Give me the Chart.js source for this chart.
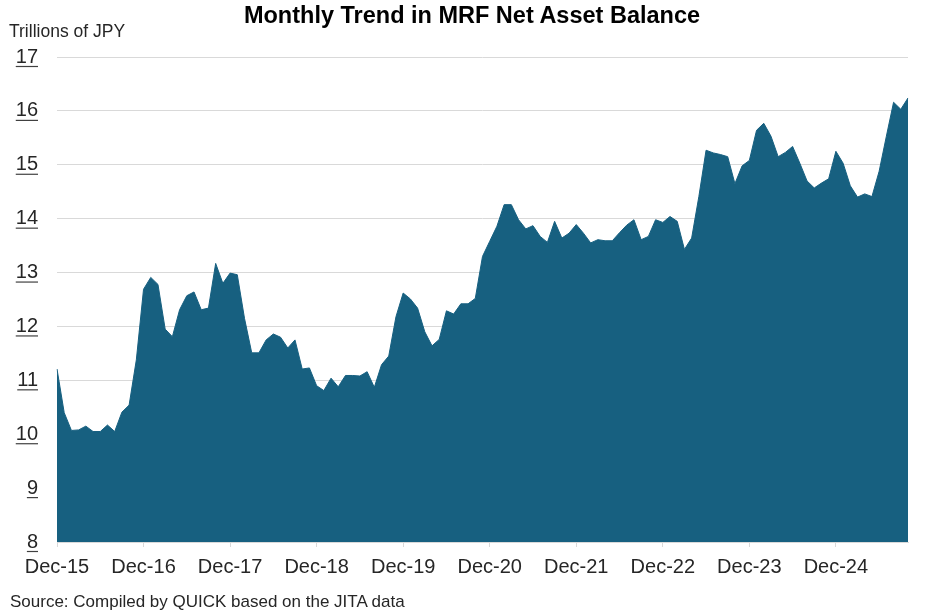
<!DOCTYPE html>
<html lang="en">
<head>
    <meta charset="UTF-8">
    <title>Monthly Trend in MRF Net Asset Balance</title>
    <script src="https://cdn.jsdelivr.net/npm/chart.js"></script>
    <style>
        body {
            margin: 0;
            font-family: "Liberation Sans", Arial, sans-serif;
            background: #ffffff;
        }
        .wrap {
            position: relative;
            width: 937px;
            height: 613px;
        }
        .title {
            position: absolute;
            left: 0;
            width: 944px;
            top: 2px;
            text-align: center;
            font-size: 23.5px;
            font-weight: bold;
            color: #000;
        }
        .unit {
            position: absolute;
            left: 9px;
            top: 21px;
            font-size: 17.5px;
            color: #262626;
        }
        .source {
            position: absolute;
            left: 10px;
            top: 592px;
            font-size: 17px;
            color: #262626;
        }
        canvas {
            position: absolute;
            left: 0;
            top: 0;
        }
    </style>
</head>
<body>
    <div class="wrap">
        <canvas id="areaChart" width="937" height="613"></canvas>
        <div class="title">Monthly Trend in MRF Net Asset Balance</div>
        <div class="unit">Trillions of JPY</div>
        <div class="source">Source: Compiled by QUICK based on the JITA data</div>
    </div>

    <script>
        // monthly series, Dec-15 .. Oct-25 (trillions of JPY)
        const monthNames = ["Jan", "Feb", "Mar", "Apr", "May", "Jun", "Jul", "Aug", "Sep", "Oct", "Nov", "Dec"];
        const balance = [
            11.21, 10.40, 10.07, 10.08, 10.15, 10.05, 10.05, 10.17, 10.05, 10.41, 10.54, 11.38,
            12.69, 12.91, 12.78, 11.95, 11.81, 12.31, 12.57, 12.64, 12.31, 12.34, 13.17, 12.80,
            12.99, 12.96, 12.15, 11.51, 11.51, 11.75, 11.86, 11.80, 11.60, 11.75, 11.21, 11.23,
            10.90, 10.81, 11.04, 10.88, 11.09, 11.09, 11.08, 11.16, 10.87, 11.29, 11.45, 12.18,
            12.62, 12.51, 12.34, 11.90, 11.64, 11.76, 12.29, 12.23, 12.42, 12.42, 12.52, 13.30,
            13.58, 13.86, 14.26, 14.26, 13.98, 13.81, 13.87, 13.67, 13.56, 13.95, 13.64, 13.73,
            13.89, 13.73, 13.55, 13.61, 13.59, 13.59, 13.74, 13.88, 13.98, 13.61, 13.67, 13.98,
            13.93, 14.04, 13.95, 13.43, 13.64, 14.41, 15.27, 15.22, 15.19, 15.15, 14.65, 14.98,
            15.08, 15.64, 15.77, 15.53, 15.15, 15.23, 15.34, 15.03, 14.70, 14.57, 14.66, 14.74,
            15.25, 15.03, 14.61, 14.40, 14.46, 14.41, 14.88, 15.53, 16.16, 16.03, 16.24
        ];
        const yTicks = [8, 9, 10, 11, 12, 13, 14, 15, 16, 17];

        // month labels starting Dec 2015
        const months = [];
        for (let i = 0; i < balance.length; i++) {
            const m = (11 + i) % 12;
            const y = 15 + Math.floor((11 + i) / 12);
            months.push(monthNames[m] + "-" + y);
        }

        // underline under the y tick labels
        const underlinePlugin = {
            id: 'underline',
            afterDraw(chart) {
                const ctx = chart.ctx;
                const yScale = chart.scales.y;
                ctx.save();
                ctx.font = '20px "Liberation Sans", Arial, sans-serif';
                ctx.strokeStyle = '#404040';
                ctx.lineWidth = 1.2;
                yScale.ticks.forEach((t) => {
                    const py = yScale.getPixelForValue(t.value);
                    const w = ctx.measureText(String(t.value)).width;
                    ctx.beginPath();
                    ctx.moveTo(38 - w, py + 9.5);
                    ctx.lineTo(38, py + 9.5);
                    ctx.stroke();
                });
                ctx.restore();
            }
        };

        const ctx = document.getElementById('areaChart').getContext('2d');
        new Chart(ctx, {
            type: 'line',
            data: {
                labels: months,
                datasets: [{
                    label: 'MRF net asset balance',
                    data: balance,
                    borderColor: '#176080',
                    backgroundColor: '#176080',
                    borderWidth: 1,
                    pointRadius: 0,
                    tension: 0,
                    fill: 'start'
                }]
            },
            options: {
                responsive: false,
                animation: false,
                layout: { padding: { top: 57, right: 29, left: 0, bottom: 0 } },
                plugins: {
                    legend: { display: false },
                    tooltip: { enabled: false }
                },
                scales: {
                    x: {
                        offset: false,
                        afterFit: (scale) => { scale.height = 71; },
                        grid: {
                            drawOnChartArea: false,
                            tickLength: 5,
                            color: (c) => (c.index % 12 === 0 ? '#d9d9d9' : 'rgba(0,0,0,0)')
                        },
                        border: { color: '#d9d9d9' },
                        ticks: {
                            autoSkip: false,
                            maxRotation: 0,
                            padding: 8,
                            color: '#262626',
                            font: { size: 20, family: '"Liberation Sans", Arial, sans-serif' },
                            callback: function (val, i) {
                                return i % 12 === 0 ? this.getLabelForValue(val) : '';
                            }
                        }
                    },
                    y: {
                        min: yTicks[0],
                        max: yTicks[yTicks.length - 1],
                        afterFit: (scale) => { scale.width = 57; },
                        afterBuildTicks: (scale) => { scale.ticks = yTicks.map(v => ({ value: v })); },
                        grid: {
                            drawTicks: false,
                            color: (c) => (c.tick && c.tick.value === 8 ? 'rgba(0,0,0,0)' : '#d9d9d9')
                        },
                        border: { display: false },
                        ticks: {
                            padding: 19,
                            color: '#262626',
                            font: { size: 20, family: '"Liberation Sans", Arial, sans-serif' }
                        }
                    }
                }
            },
            plugins: [underlinePlugin]
        });
    </script>
</body>
</html>
